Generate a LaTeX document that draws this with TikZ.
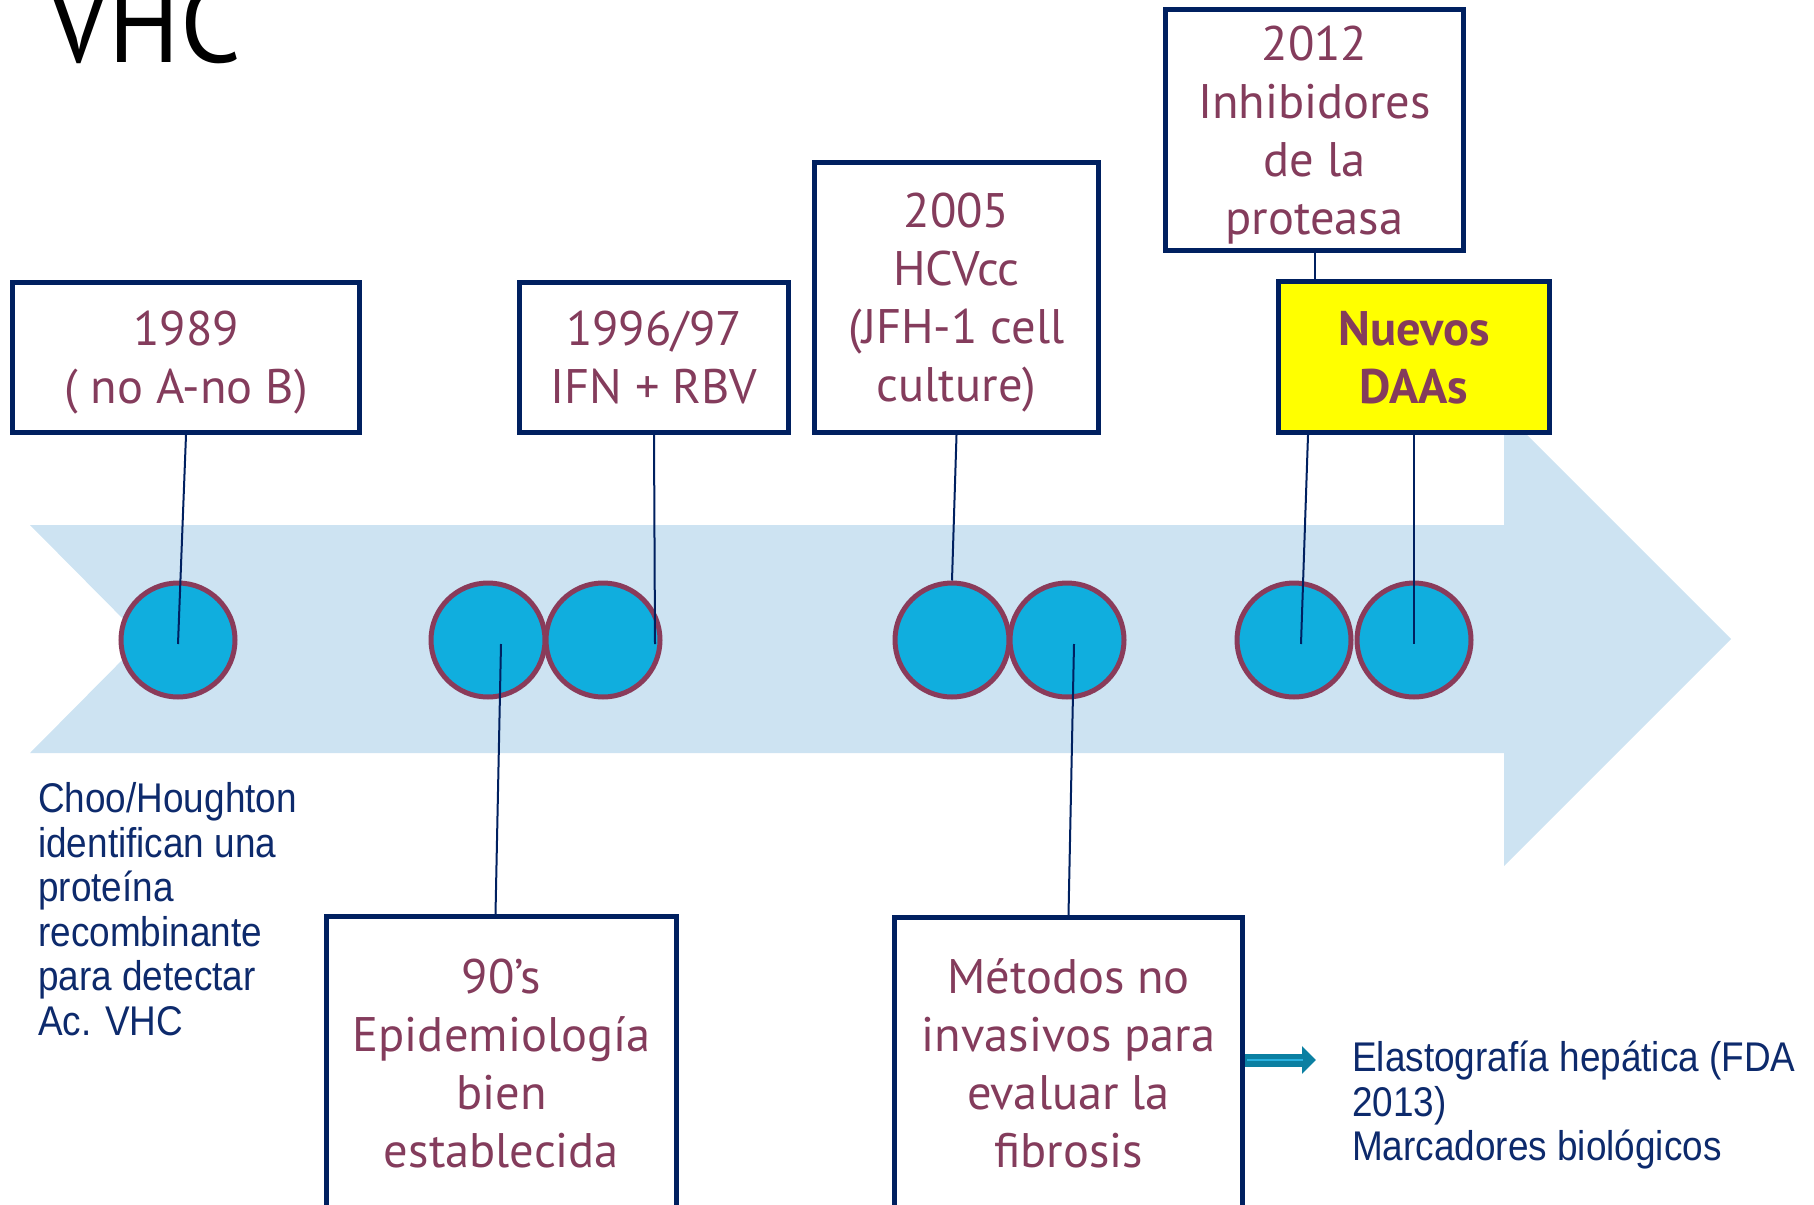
\documentclass[tikz,border=0pt]{standalone}
\usepackage{fontspec}
\usetikzlibrary{arrows.meta}
\newfontfamily\boxfont{PT Sans}
\newfontfamily\titlefont[FakeStretch=0.95]{PT Sans}
\newfontfamily\arialA[FakeStretch=0.89]{Liberation Sans}
\definecolor{navy}{HTML}{002060}
\definecolor{maroon}{HTML}{843C5C}
\definecolor{ring}{HTML}{8A3B5A}
\definecolor{dotfill}{HTML}{10AEDE}
\definecolor{band}{HTML}{CDE3F2}
\definecolor{arrowteal}{HTML}{0B80A2}
\definecolor{arrowlight}{HTML}{2AB2E0}
\definecolor{txtblue}{HTML}{0D2A6C}
\definecolor{brightyellow}{HTML}{FFFF00}
\tikzset{
  evbox/.style={draw=navy, line width=5pt, fill=white, rectangle, inner sep=0pt,
    align=center, text=maroon, text depth=0pt, font=\boxfont\fontsize{48.5}{58}\selectfont},
  dot/.style={circle, draw=ring, line width=5pt, fill=dotfill, minimum size=114pt, inner sep=0pt},
  link/.style={draw=navy, line width=2pt},
  note/.style={align=left, inner sep=0pt, text=txtblue, font=\arialA\fontsize{41.5}{44.6}\selectfont}
}
\begin{document}
\begin{tikzpicture}[x=1pt,y=-1pt]
\useasboundingbox (0,0) rectangle (1814,1204);
% band arrow
\fill[band] (30,525) -- (1504,525) -- (1504,412) -- (1731,639) -- (1504,866) -- (1504,753) -- (30,753) -- (143,639) -- cycle;
% title
\node[anchor=base west, inner sep=0pt, font=\titlefont\fontsize{112}{120}\selectfont] (title) at (48,63) {VHC};
% circles
\node[dot] (c1) at (178,640) {};
\node[dot] (c2) at (488,640) {};
\node[dot] (c3) at (603,640) {};
\node[dot] (c4) at (952,640) {};
\node[dot] (c5) at (1067,640) {};
\node[dot] (c6) at (1294,640) {};
\node[dot] (c7) at (1414,640) {};
% boxes
\node[evbox, minimum width=347pt, minimum height=150pt] (b1989) at (186,357.5) {1989\\( no A-no B)};
\node[evbox, minimum width=269pt, minimum height=150pt] (b1996) at (654,357.5) {1996/97\\IFN + RBV};
\node[evbox, minimum width=284pt, minimum height=270pt] (b2005) at (956.5,297.5) {2005\\HCVcc\\(JFH-1 cell\\culture)};
\node[evbox, minimum width=298pt, minimum height=241pt] (b2012) at (1314.5,130) {2012\\Inhibidores\\de la\\proteasa};
\node[evbox, fill=brightyellow, minimum width=271pt, minimum height=151pt, font=\boxfont\bfseries\fontsize{48.5}{58}\selectfont] (bdaa) at (1414,357) {Nuevos\\DAAs};
\node[evbox, minimum width=350pt, minimum height=293pt] (b90) at (501.5,1063) {90’s\\Epidemiología\\bien\\establecida};
\node[evbox, minimum width=348pt, minimum height=291pt] (bmet) at (1068.5,1063) {Métodos no\\invasivos para\\evaluar la\\fibrosis};
% connector end points
\coordinate (p1) at (178,644);
\coordinate (p2) at (501,644);
\coordinate (p3) at (655,644);
\coordinate (p5) at (1074,644);
\coordinate (p6) at (1301,644);
\coordinate (p7) at (1414,644);
% connectors
\draw[link] (b1989.south) -- (p1);
\draw[link] (b1996.south) -- (p3);
\draw[link] (p2) -- ([xshift=-6pt]b90.north);
\draw[link] (b2005.south) -- (c4.north);
\draw[link] (p5) -- (bmet.north);
\draw[link] (b2012.south) -- (b2012.south |- bdaa.north);
\draw[link] ([xshift=-106pt]bdaa.south) -- (p6);
\draw[link] (bdaa.south) -- (p7);
% small arrow
\coordinate (q) at (1316,1060);
\draw[arrowteal, line width=13pt, -{Triangle[width=27pt,length=14pt]}] ([yshift=3pt]bmet.east) -- (q);
\draw[arrowlight, line width=2.5pt] (1247,1060) -- (1303,1060);
% notes
\node[note, anchor=north west] (choo) at (38,781)
  {\strut Choo/Houghton\\identifican una\\proteína\\recombinante\\para detectar\\Ac. VHC};
\node[note, anchor=north west] (elasto) at (1352,1040)
  {\strut Elastografía hepática (FDA\\2013)\\Marcadores biológicos};
\end{tikzpicture}
\end{document}
